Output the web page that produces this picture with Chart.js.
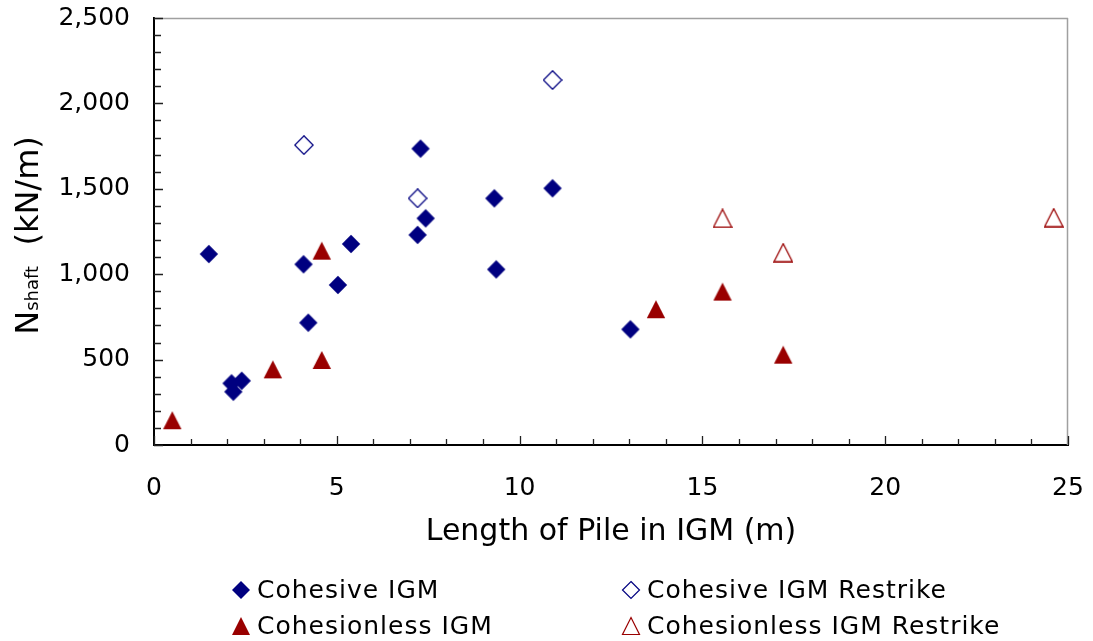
<!DOCTYPE html>
<html>
<head>
<meta charset="utf-8">
<script src="https://cdn.jsdelivr.net/npm/chart.js@4/dist/chart.umd.min.js"></script>
<style>
  html, body { margin: 0; padding: 0; background: #fff; }
  #wrap { position: relative; width: 1093px; height: 641px; }
  #c { position: absolute; left: 0; top: 0; }
  .leg { position: absolute; font-family: "DejaVu Sans", Verdana, sans-serif; font-size: 25px; letter-spacing: 1px; color: #000; white-space: nowrap; line-height: 30px; }
  .leg svg { position: absolute; left: -26px; top: 5px; }
</style>
</head>
<body>
<div id="wrap">
  <canvas id="c" width="1093" height="641"></canvas>
  <div class="leg" style="left:257px; top:575px;"><svg width="20" height="20"><polygon points="10,1 19,10 10,19 1,10" fill="#000080"/></svg>Cohesive IGM</div>
  <div class="leg" style="left:647px; top:575px;"><svg width="20" height="20"><polygon points="10,1.5 18.5,10 10,18.5 1.5,10" fill="#fff" stroke="#000080" stroke-width="1.2"/></svg>Cohesive IGM Restrike</div>
  <div class="leg" style="left:257px; top:611px;"><svg width="20" height="20"><polygon points="10,1 19,19 1,19" fill="#990000"/></svg>Cohesionless IGM</div>
  <div class="leg" style="left:647px; top:611px;"><svg width="20" height="20"><polygon points="10,1.5 18.5,18.5 1.5,18.5" fill="#fff" stroke="#990000" stroke-width="1.2"/></svg>Cohesionless IGM Restrike</div>
</div>
<script>
// ---- data ----
const cohesiveX = [1.50, 2.12, 2.17, 2.40, 4.09, 4.22, 5.03, 5.39, 7.21, 7.29, 7.43, 9.31, 9.36, 10.90, 13.03];
const cohesiveY = [1118, 361, 312, 376, 1058, 716, 937, 1177, 1230, 1735, 1327, 1444, 1028, 1503, 677];
const cohesiveRestrikeX = [4.10, 7.21, 10.90];
const cohesiveRestrikeY = [1756, 1444, 2137];
const cohesionlessX = [0.50, 3.25, 4.59, 4.59, 13.73, 15.55, 17.21];
const cohesionlessY = [145, 443, 1138, 498, 795, 898, 529];
const cohesionlessRestrikeX = [15.55, 17.21, 24.61];
const cohesionlessRestrikeY = [1327, 1126, 1331];
const xTicks = [0, 5, 10, 15, 20, 25];
const yTicks = [0, 500, 1000, 1500, 2000, 2500];

const NAVY = '#000080';
const RED = '#990000';

function marker(kind, filled, color) {
  const s = 20;
  const cv = document.createElement('canvas');
  cv.width = s; cv.height = s;
  const g = cv.getContext('2d');
  g.beginPath();
  if (kind === 'diamond') {
    g.moveTo(10, 0.8); g.lineTo(19.2, 10); g.lineTo(10, 19.2); g.lineTo(0.8, 10);
  } else {
    g.moveTo(10, 1); g.lineTo(19.2, 19); g.lineTo(0.8, 19);
  }
  g.closePath();
  if (filled) { g.fillStyle = color; g.fill(); }
  else { g.fillStyle = '#fff'; g.fill(); g.lineWidth = 1.3; g.strokeStyle = color; g.stroke(); }
  return cv;
}

function pts(xs, ys) { return xs.map((x, i) => ({x: x, y: ys[i]})); }

const FONT = '"DejaVu Sans", Verdana, sans-serif';

const axisDeco = {
  id: 'axisDeco',
  afterDraw(chart) {
    const {ctx, chartArea: a, scales: {x, y}} = chart;
    ctx.save();
    // top & right frame (gray)
    ctx.strokeStyle = '#a0a0a0';
    ctx.lineWidth = 1.5;
    ctx.beginPath();
    ctx.moveTo(a.left, a.top + 0.5); ctx.lineTo(a.right, a.top + 0.5);
    ctx.moveTo(a.right - 0.5, a.top); ctx.lineTo(a.right - 0.5, a.bottom);
    ctx.stroke();
    // ticks inside
    ctx.strokeStyle = '#202020';
    ctx.lineWidth = 1.3;
    ctx.beginPath();
    for (let v = x.min; v <= x.max + 1e-9; v += 1) {
      const px = Math.round(x.getPixelForValue(v)) + 0.5;
      const len = (v % 5 === 0) ? 9 : 6;
      ctx.moveTo(px, a.bottom); ctx.lineTo(px, a.bottom - len);
    }
    for (let v = y.min; v <= y.max + 1e-9; v += 100) {
      const py = Math.round(y.getPixelForValue(v)) + 0.5;
      const len = (v % 500 === 0) ? 9 : 7;
      ctx.moveTo(a.left, py); ctx.lineTo(a.left + len, py);
    }
    ctx.stroke();
    // y axis title with subscript
    ctx.translate(27, (a.top + a.bottom) / 2 + 4);
    ctx.rotate(-Math.PI / 2);
    ctx.fillStyle = '#000';
    ctx.textBaseline = 'alphabetic';
    const big = '32px ' + FONT, small = '18px ' + FONT;
    ctx.font = big; const wN = ctx.measureText('N').width;
    ctx.font = small; const wS = ctx.measureText('shaft').width;
    ctx.font = big; const wR = ctx.measureText('  (kN/m)').width;
    const total = wN + wS + wR;
    let cx = -total / 2;
    const base = 11;
    ctx.font = big; ctx.fillText('N', cx, base); cx += wN;
    ctx.font = small; ctx.fillText('shaft', cx, base); cx += wS;
    ctx.font = big; ctx.fillText('  (kN/m)', cx, base);
    ctx.restore();
  }
};

const chart = new Chart(document.getElementById('c'), {
  type: 'scatter',
  data: {
    datasets: [
      { label: 'Cohesive IGM', data: pts(cohesiveX, cohesiveY), pointStyle: marker('diamond', true, NAVY), backgroundColor: NAVY, borderColor: NAVY },
      { label: 'Cohesive IGM Restrike', data: pts(cohesiveRestrikeX, cohesiveRestrikeY), pointStyle: marker('diamond', false, NAVY), backgroundColor: '#fff', borderColor: NAVY },
      { label: 'Cohesionless IGM', data: pts(cohesionlessX, cohesionlessY), pointStyle: marker('triangle', true, RED), backgroundColor: RED, borderColor: RED },
      { label: 'Cohesionless IGM Restrike', data: pts(cohesionlessRestrikeX, cohesionlessRestrikeY), pointStyle: marker('triangle', false, RED), backgroundColor: '#fff', borderColor: RED }
    ]
  },
  options: {
    responsive: false,
    animation: false,
    devicePixelRatio: 1,
    layout: { padding: { left: 0, top: 18, right: 25, bottom: 86 } },
    plugins: { legend: { display: false }, tooltip: { enabled: false } },
    scales: {
      x: {
        type: 'linear', min: 0, max: 25,
        afterBuildTicks: (s) => { s.ticks = xTicks.map(v => ({value: v})); },
        afterFit: (s) => { s.height = 110; s.paddingLeft = 0; s.paddingRight = 0; },
        ticks: { color: '#000', font: { family: FONT, size: 25 }, padding: 28, maxRotation: 0 },
        grid: { display: true, drawOnChartArea: false, drawTicks: false, color: 'transparent' },
        border: { display: true, color: '#000', width: 2 },
        title: { display: true, text: 'Length of Pile in IGM (m)', color: '#000', font: { family: FONT, size: 30 }, padding: { top: 0, bottom: 5 } }
      },
      y: {
        type: 'linear', min: 0, max: 2500,
        afterBuildTicks: (s) => { s.ticks = yTicks.map(v => ({value: v})); },
        afterFit: (s) => { s.width = 154; s.paddingTop = 0; s.paddingBottom = 0; },
        ticks: { color: '#000', font: { family: FONT, size: 25 }, padding: 24,
          callback: (v) => v.toLocaleString('en-US') },
        grid: { display: true, drawOnChartArea: false, drawTicks: false, color: 'transparent' },
        border: { display: true, color: '#000', width: 2 }
      }
    }
  },
  plugins: [axisDeco]
});
</script>
</body>
</html>
